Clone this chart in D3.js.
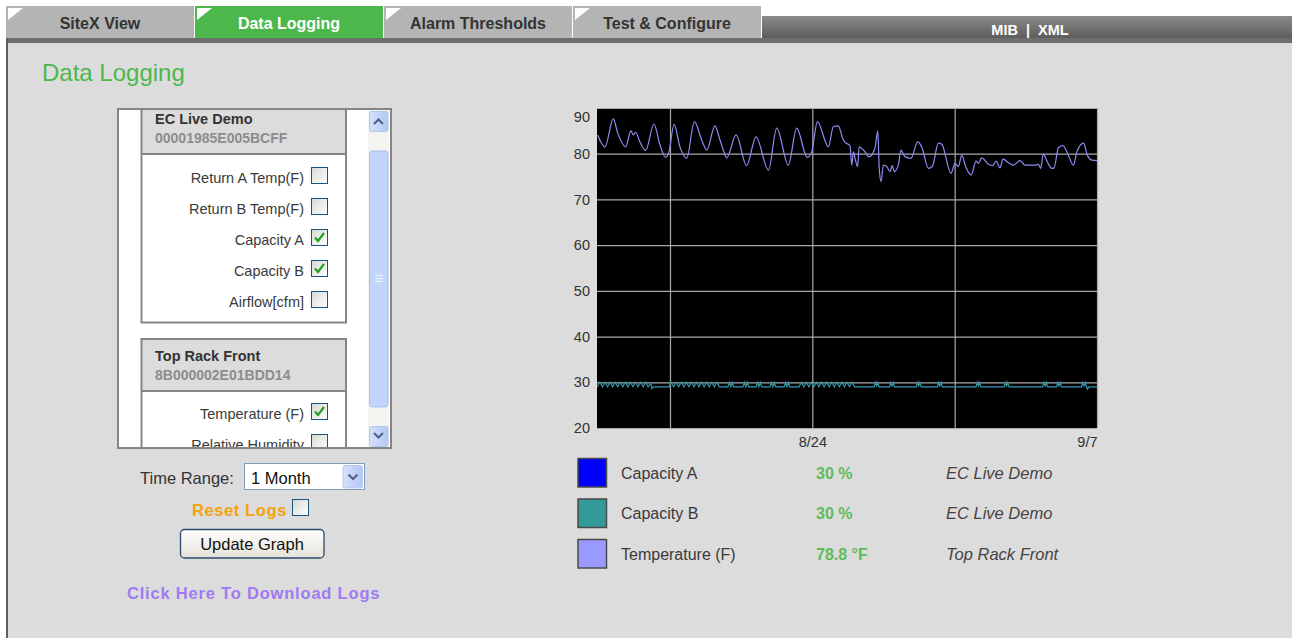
<!DOCTYPE html>
<html>
<head>
<meta charset="utf-8">
<script src="https://cdn.jsdelivr.net/npm/d3@7/dist/d3.min.js"></script>
<style>
  html, body { margin: 0; padding: 0; background: #fff; }
  svg { display: block; font-family: "Liberation Sans", Arial, sans-serif; }
</style>
</head>
<body>
<svg id="page" width="1292" height="638"></svg>
<script>
// ---- page text ----
const tabNames = ['SiteX View', 'Data Logging', 'Alarm Thresholds', 'Test & Configure'];
const activeTab = 'Data Logging';
const groupNames = ['EC Live Demo', 'Top Rack Front'];
const groupIds = ['00001985E005BCFF', '8B000002E01BDD14'];
const groupOneChannels = ['Return A Temp(F)', 'Return B Temp(F)', 'Capacity A', 'Capacity B', 'Airflow[cfm]'];
const groupOneChecked = [false, false, true, true, false];
const groupTwoChannels = ['Temperature (F)', 'Relative Humidity'];
const groupTwoChecked = [true, false];

// ---- legend ----
const seriesNames = ['Capacity A', 'Capacity B', 'Temperature (F)'];
const seriesColors = ['#0000ff', '#339999', '#9999ff'];
const seriesLatest = ['30 %', '30 %', '78.8 °F'];
const seriesSources = ['EC Live Demo', 'EC Live Demo', 'Top Rack Front'];

// ---- axes ----
const yTicks = [20, 30, 40, 50, 60, 70, 80, 90];
const gridDays = [17, 24, 31, 38];          // weekly grid, day counted from Aug 1 (38 = Sep 7)
const labelDays = [24, 38];
const labelText = ['8/24', '9/7'];
const rangeStart = 13.41, rangeEnd = 38;

// ---- logged data (day of August, value) ----
const tempDays = [13.44, 13.80, 14.21, 14.43, 14.82, 15.08, 15.19, 15.31, 15.52, 15.80, 16.21, 16.51, 16.79, 16.95,
  17.20, 17.49, 17.82, 18.20, 18.56, 18.81, 19.21, 19.46, 19.66, 19.79, 20.25, 20.77, 21.23, 21.84, 22.25, 22.82,
  23.23, 23.75, 23.97, 24.25, 24.79, 25.03, 25.28, 25.49, 25.61, 25.85, 25.94, 26.02, 26.10, 26.23, 26.30, 26.59,
  26.79, 27.08, 27.22, 27.29, 27.38, 27.49, 27.66, 27.82, 27.93, 28.03, 28.23, 28.36, 28.56, 28.85, 29.18, 29.38,
  29.71, 29.90, 30.20, 30.36, 30.82, 31.02, 31.18, 31.35, 31.54, 31.81, 32.05, 32.17, 32.33, 32.66, 32.87, 33.04,
  33.23, 33.37, 33.69, 33.89, 34.22, 34.46, 34.95, 35.12, 35.23, 35.36, 35.56, 35.78, 35.89, 36.10, 36.32, 36.55,
  36.84, 37.01, 37.34, 37.53, 37.75, 38.00];
const tempValues = [84.1, 81.5, 87.6, 84.5, 81.5, 85.0, 84.1, 84.7, 82.6, 80.7, 86.5, 81.9, 79.2, 80.4,
  86.4, 81.5, 79.0, 87.0, 83.0, 80.8, 86.1, 83.0, 80.3, 79.1, 84.1, 77.4, 83.7, 76.4, 85.6, 77.5,
  85.6, 79.2, 80.4, 87.0, 81.5, 85.9, 86.1, 83.4, 82.5, 81.8, 77.5, 80.4, 79.0, 77.2, 81.5, 80.4,
  79.3, 81.2, 85.0, 76.8, 73.9, 77.5, 77.2, 76.1, 77.4, 76.1, 77.5, 80.8, 79.3, 79.0, 82.6, 81.5,
  76.8, 77.2, 82.3, 82.1, 75.7, 77.9, 77.2, 79.7, 77.2, 75.3, 78.4, 77.9, 79.1, 77.7, 77.4, 78.4,
  76.9, 78.8, 77.9, 77.5, 78.5, 77.5, 77.5, 77.7, 76.8, 79.9, 78.2, 76.8, 76.9, 81.3, 81.8, 80.1,
  77.5, 80.4, 82.3, 79.6, 78.6, 78.5];

// capacity A and B logged the same readings, A sits under B
const capDays = [13.41, 13.55, 13.68, 13.80, 13.93, 14.05, 14.18, 14.30, 14.43, 14.55, 14.68, 14.80, 14.93,
  15.05, 15.18, 15.30, 15.43, 15.55, 15.68, 15.80, 15.93, 16.05, 16.11, 16.18, 16.95,
  17.05, 17.18, 17.30, 17.43, 17.55, 17.68, 17.80, 17.93, 18.05, 18.18, 18.30, 18.43, 18.55, 18.68, 18.80,
  18.93, 19.05, 19.18, 19.30, 19.43, 19.56,
  19.85, 19.92, 19.99, 20.06, 20.13, 20.59, 20.66, 20.73, 20.80, 20.87, 21.23, 21.30, 21.37, 21.44, 21.51,
  21.92, 21.99, 22.06, 22.13, 22.20, 22.61, 22.68, 22.75, 22.82, 22.89,
  23.35, 23.45, 23.58, 23.70, 23.83, 23.95, 24.08, 24.20, 24.33, 24.45, 24.58, 24.70, 24.83, 24.95, 25.08,
  25.20, 25.33, 25.45, 25.58, 25.70, 25.83, 25.95, 26.08,
  27.04, 27.10, 27.16, 27.22, 27.28, 27.80, 27.86, 27.92, 27.98, 28.04, 29.11, 29.17, 29.23, 29.29, 29.35,
  30.15, 30.21, 30.27, 30.33, 30.39, 32.05, 32.11, 32.17, 32.23, 32.29, 33.43, 33.49, 33.55, 33.61, 33.67,
  35.33, 35.39, 35.45, 35.51, 35.57, 36.01, 36.07, 36.13, 36.19, 36.25, 37.24, 37.30, 37.36, 37.42, 37.48,
  37.53, 37.60, 38.00];
const capValues = [29, 30, 29, 30, 29, 30, 29, 30, 29, 30, 29, 30, 29,
  30, 29, 30, 29, 30, 29, 30, 29, 29.8, 28.6, 29, 29,
  30, 29, 30, 29, 30, 29, 30, 29, 30, 29, 30, 29, 30, 29, 30,
  29, 30, 29, 30, 29, 29,
  29, 30, 29, 30, 29, 29, 30, 29, 30, 29, 29, 30, 29, 30, 29,
  29, 30, 29, 30, 29, 29, 30, 29, 30, 29,
  29, 30, 29, 30, 29, 30, 29, 30, 29, 30, 29, 30, 29, 30, 29,
  30, 29, 30, 29, 30, 29, 30, 29,
  29, 30, 29.2, 30, 29, 29, 30, 29.2, 30, 29, 29, 30, 29.2, 30, 29,
  29, 30, 29.2, 30, 29, 29, 30, 29.2, 30, 29, 29, 30, 29.2, 30, 29,
  29, 30, 29.2, 30, 29, 29, 30, 29.2, 30, 29, 29, 30, 29.2, 30, 29,
  28.5, 29, 29];

const svg = d3.select('#page');
const defs = svg.append('defs');

function gradient(id, c1, c2, x2, y2) {
  const g = defs.append('linearGradient').attr('id', id)
    .attr('x1', 0).attr('y1', 0).attr('x2', x2).attr('y2', y2);
  g.append('stop').attr('offset', 0).attr('stop-color', c1);
  g.append('stop').attr('offset', 1).attr('stop-color', c2);
}
gradient('barGrad', '#8c8c8c', '#5c5c5c', 0, 1);
gradient('cbGrad', '#d8d8d2', '#ffffff', 1, 1);
gradient('blueBtn', '#d4e0fc', '#b4c7f3', 1, 0);
gradient('btnGrad', '#ffffff', '#e4e2d8', 0, 1);

// ---- chrome ----
svg.append('rect').attr('x', 8).attr('y', 43).attr('width', 1284).attr('height', 595).attr('fill', '#dcdcdc');
svg.append('rect').attr('x', 6).attr('y', 38).attr('width', 1286).attr('height', 5).attr('fill', '#6e6e6e');
svg.append('rect').attr('x', 6).attr('y', 38).attr('width', 2).attr('height', 600).attr('fill', '#5f5f5f');
svg.append('rect').attr('x', 762).attr('y', 16).attr('width', 530).attr('height', 22).attr('fill', 'url(#barGrad)');

const tabs = svg.append('g').selectAll('g').data(tabNames).enter().append('g')
  .attr('transform', (d, i) => `translate(${6 + i * 189},6)`);
tabs.append('rect').attr('width', 188).attr('height', 32)
  .attr('fill', d => d === activeTab ? '#4cb84c' : '#b4b4b4');
tabs.append('path').attr('d', 'M2,2 L17,2 L2,14 Z').attr('fill', '#fff');
tabs.append('text').attr('x', 94).attr('y', 22.5).attr('text-anchor', 'middle')
  .attr('font-size', 16).attr('font-weight', 'bold')
  .attr('fill', d => d === activeTab ? '#fff' : '#333').text(d => d);

svg.append('text').attr('x', 1030).attr('y', 35).attr('text-anchor', 'middle')
  .attr('font-size', 14.5).attr('font-weight', 'bold').attr('fill', '#fff')
  .attr('xml:space', 'preserve').text('MIB  |  XML');

svg.append('text').attr('x', 42).attr('y', 81).attr('font-size', 24).attr('fill', '#4cb84c').text('Data Logging');

// ---- sensor picker ----
function checkbox(g, x, y, size, checked) {
  g.append('rect').attr('x', x + 0.5).attr('y', y + 0.5).attr('width', size - 1).attr('height', size - 1)
    .attr('fill', 'url(#cbGrad)').attr('stroke', '#1c5180');
  if (checked) {
    g.append('path')
      .attr('d', `M${x + 4},${y + size / 2} L${x + 7},${y + size / 2 + 3.5} L${x + size - 4},${y + 4}`)
      .attr('fill', 'none').attr('stroke', '#21a121').attr('stroke-width', 2.2);
  }
}

const panel = svg.append('g');
panel.append('rect').attr('x', 118).attr('y', 109).attr('width', 273).attr('height', 339)
  .attr('fill', '#fff').attr('stroke', '#858585').attr('stroke-width', 2);
defs.append('clipPath').attr('id', 'listClip').append('rect')
  .attr('x', 119).attr('y', 110).attr('width', 248).attr('height', 337);
const list = panel.append('g').attr('clip-path', 'url(#listClip)');

function sensorGroup(top, headBottom, bottom, gi, channels, checked, firstRow) {
  list.append('rect').attr('x', 141.5).attr('y', top).attr('width', 204.5).attr('height', headBottom - top)
    .attr('fill', '#dcdcdc');
  list.append('rect').attr('x', 141.5).attr('y', top).attr('width', 204.5).attr('height', bottom - top)
    .attr('fill', 'none').attr('stroke', '#858585').attr('stroke-width', 2);
  list.append('line').attr('x1', 141.5).attr('x2', 346).attr('y1', headBottom).attr('y2', headBottom)
    .attr('stroke', '#858585').attr('stroke-width', 2);
  list.append('text').attr('x', 155).attr('y', headBottom - 30).attr('font-size', 14.5).attr('font-weight', 'bold')
    .attr('fill', '#333').text(groupNames[gi]);
  list.append('text').attr('x', 155).attr('y', headBottom - 11).attr('font-size', 14).attr('font-weight', 'bold')
    .attr('fill', '#8c8c8c').text(groupIds[gi]);
  channels.forEach((c, i) => {
    const ry = firstRow + i * 31;
    list.append('text').attr('x', 304).attr('y', ry + 16).attr('text-anchor', 'end')
      .attr('font-size', 14.5).attr('fill', '#3a3a3a').text(c);
    checkbox(list, 311, ry, 17, checked[i]);
  });
}
sensorGroup(60, 154, 322.5, 0, groupOneChannels, groupOneChecked, 167);
sensorGroup(339, 391, 520, 1, groupTwoChannels, groupTwoChecked, 403);

// scrollbar
panel.append('rect').attr('x', 368).attr('y', 110).attr('width', 21).attr('height', 337).attr('fill', '#f4f4f0');
[[111, 'M374,124 L378.5,119.5 L383,124'], [426, 'M374,433 L378.5,437.5 L383,433']].forEach(b => {
  panel.append('rect').attr('x', 369.5).attr('y', b[0] + 0.5).attr('width', 18.5).attr('height', 20).attr('rx', 2)
    .attr('fill', 'url(#blueBtn)').attr('stroke', '#b2c6f2');
  panel.append('path').attr('d', b[1]).attr('fill', 'none').attr('stroke', '#4d6185').attr('stroke-width', 2);
});
panel.append('rect').attr('x', 369.5).attr('y', 151).attr('width', 18.5).attr('height', 256).attr('rx', 3)
  .attr('fill', '#c3d4fc').attr('stroke', '#a9bff0');
[275.5, 278.5, 281.5].forEach(gy => panel.append('line').attr('x1', 375).attr('x2', 383).attr('y1', gy).attr('y2', gy)
  .attr('stroke', '#eef3ff').attr('stroke-width', 1.2));

// ---- controls ----
const ctl = svg.append('g').attr('font-size', 16.5);
ctl.append('text').attr('x', 140).attr('y', 484).attr('fill', '#333').text('Time Range:');
ctl.append('rect').attr('x', 244.5).attr('y', 463.5).attr('width', 120).attr('height', 26)
  .attr('fill', '#fff').attr('stroke', '#7f9db9');
ctl.append('text').attr('x', 251).attr('y', 484).attr('fill', '#111').text('1 Month');
ctl.append('rect').attr('x', 343).attr('y', 465.5).attr('width', 19.5).attr('height', 22.5).attr('rx', 2)
  .attr('fill', 'url(#blueBtn)').attr('stroke', '#b8cbf4');
ctl.append('path').attr('d', 'M348.5,474.5 L353,479 L357.5,474.5').attr('fill', 'none')
  .attr('stroke', '#4d6185').attr('stroke-width', 2);

ctl.append('text').attr('x', 192).attr('y', 516).attr('font-weight', 'bold').attr('fill', '#f2a20c')
  .attr('letter-spacing', 0.6).text('Reset Logs');
checkbox(ctl, 292, 499, 17, false);

ctl.append('rect').attr('x', 180.5).attr('y', 529.5).attr('width', 143.5).attr('height', 28.5).attr('rx', 4)
  .attr('fill', 'url(#btnGrad)').attr('stroke', '#2a4a6c').attr('stroke-width', 1.3);
ctl.append('text').attr('x', 252).attr('y', 549.5).attr('text-anchor', 'middle').attr('fill', '#111').text('Update Graph');

ctl.append('text').attr('x', 127).attr('y', 599).attr('font-weight', 'bold').attr('fill', '#a07af2')
  .attr('letter-spacing', 0.8).text('Click Here To Download Logs');

// ---- chart ----
const dayDate = d => new Date(Date.UTC(2009, 7, 1) + (d - 1) * 864e5);
const x = d3.scaleUtc().domain([dayDate(rangeStart), dayDate(rangeEnd)]).range([597, 1097]);
const y = d3.scaleLinear().domain([20, 90]).range([428, 108]);
const plotW = 500, plotH = 320;

const chart = svg.append('g');
chart.append('rect').attr('x', x.range()[0]).attr('y', y(90)).attr('width', plotW).attr('height', plotH).attr('fill', '#000');

chart.append('g').attr('class', 'grid')
  .attr('transform', `translate(${x.range()[0]},0)`)
  .call(d3.axisLeft(y).tickValues(yTicks).tickSize(-plotW).tickFormat(''));
chart.append('g').attr('class', 'grid')
  .attr('transform', `translate(0,${y(20)})`)
  .call(d3.axisBottom(x).tickValues(gridDays.map(dayDate)).tickSize(-plotH).tickFormat(''));
chart.selectAll('.grid .domain').remove();
chart.selectAll('.grid line').attr('stroke', '#a9a9a9').attr('stroke-width', 1.2);

const yAxis = chart.append('g')
  .attr('transform', `translate(${x.range()[0]},0)`)
  .call(d3.axisLeft(y).tickValues(yTicks).tickSize(0).tickPadding(7));
yAxis.select('.domain').remove();
yAxis.selectAll('text').attr('font-size', 14.5).attr('fill', '#333').attr('font-family', 'Liberation Sans, Arial')
  .attr('dy', d => d === 90 ? '0.95em' : '0.32em');

const xAxis = chart.append('g')
  .attr('transform', `translate(0,${y(20)})`)
  .call(d3.axisBottom(x).tickValues(labelDays.map(dayDate)).tickSize(0).tickPadding(9)
    .tickFormat((d, i) => labelText[i]));
xAxis.select('.domain').remove();
xAxis.selectAll('text').attr('font-size', 14.5).attr('fill', '#333').attr('font-family', 'Liberation Sans, Arial')
  .attr('text-anchor', (d, i) => i === labelText.length - 1 ? 'end' : 'middle');

defs.append('clipPath').attr('id', 'plotClip').append('rect')
  .attr('x', 597).attr('y', 108).attr('width', plotW).attr('height', plotH);

const capLine = d3.line().x(d => x(dayDate(d[0]))).y(d => y(d[1]));
const tempLine = d3.line().x(d => x(dayDate(d[0]))).y(d => y(d[1])).curve(d3.curveMonotoneX);
const seriesData = [d3.zip(capDays, capValues), d3.zip(capDays, capValues), d3.zip(tempDays, tempValues)];
chart.append('g').attr('clip-path', 'url(#plotClip)')
  .selectAll('path').data(seriesData).enter().append('path')
  .attr('d', (d, i) => i === 2 ? tempLine(d) : capLine(d)).attr('fill', 'none')
  .attr('stroke', (d, i) => i === 2 ? '#8c8cf4' : seriesColors[i])
  .attr('stroke-width', (d, i) => i === 0 ? 0.5 : 1.2);

// ---- legend ----
const legend = svg.append('g').selectAll('g').data(seriesNames).enter().append('g')
  .attr('transform', (d, i) => `translate(0,${458 + i * 40.5})`);
legend.append('rect').attr('x', 578).attr('y', 0.5).attr('width', 28.5).attr('height', 28.5)
  .attr('fill', (d, i) => seriesColors[i]).attr('stroke', '#4a4a4a').attr('stroke-width', 1.5);
legend.append('text').attr('x', 621).attr('y', 20.5).attr('font-size', 16).attr('fill', '#3a3a3a').text(d => d);
legend.append('text').attr('x', 816).attr('y', 20.5).attr('font-size', 16).attr('font-weight', 'bold')
  .attr('fill', '#5cbc5c').text((d, i) => seriesLatest[i]);
legend.append('text').attr('x', 946).attr('y', 20.5).attr('font-size', 16.5).attr('font-style', 'italic')
  .attr('fill', '#444').text((d, i) => seriesSources[i]);
</script>
</body>
</html>
